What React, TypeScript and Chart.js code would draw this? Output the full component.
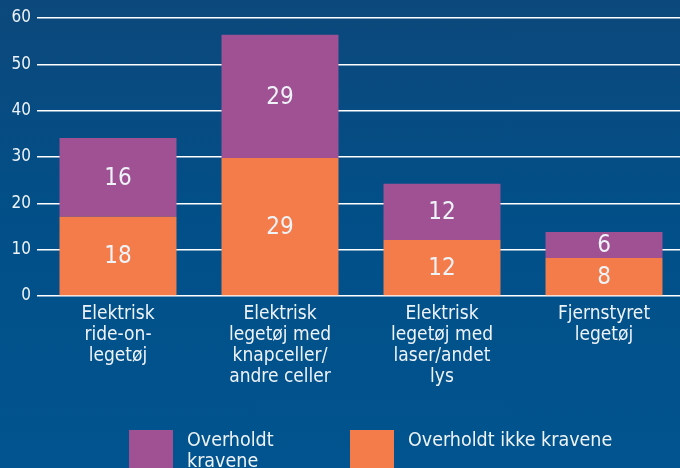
import React, { useEffect, useRef } from "react";
import { Chart, registerables } from "chart.js";

Chart.register(...registerables);

const categories: string[][] = [
  ["Elektrisk", "ride-on-", "legetøj"],
  ["Elektrisk", "legetøj med", "knapceller/", "andre celler"],
  ["Elektrisk", "legetøj med", "laser/andet", "lys"],
  ["Fjernstyret", "legetøj"],
];

// Bar heights as drawn in the picture
const notMetValues = [17.1, 29.8, 12.1, 8.2];
const metValues = [17.0, 26.6, 12.1, 5.6];
// Numbers printed on the bars
const notMetLabels = ["18", "29", "12", "8"];
const metLabels = ["16", "29", "12", "6"];

const seriesNames = ["Overholdt kravene", "Overholdt ikke kravene"];
const yTicks = [0, 10, 20, 30, 40, 50, 60];

const PURPLE = "#a05193";
const ORANGE = "#f47b4a";
const TEXT = "#eef3f8";
const FONT = "'DejaVu Sans Condensed', 'DejaVu Sans', sans-serif";

const valueLabelPlugin = {
  id: "valueLabels",
  afterDatasetsDraw(chart: any) {
    const ctx = chart.ctx;
    ctx.save();
    ctx.fillStyle = TEXT;
    ctx.font = `24px ${FONT}`;
    ctx.textAlign = "center";
    ctx.textBaseline = "middle";
    chart.data.datasets.forEach((ds: any, di: number) => {
      const meta = chart.getDatasetMeta(di);
      meta.data.forEach((el: any, i: number) => {
        const txt = ds.valueLabels[i];
        ctx.fillText(txt, el.x, (el.y + el.base) / 2 + 1);
      });
    });
    ctx.restore();
  },
};

const legendPlugin = {
  id: "customLegend",
  afterDraw(chart: any) {
    const ctx = chart.ctx;
    ctx.save();
    ctx.font = `19.5px ${FONT}`;
    ctx.textBaseline = "alphabetic";
    const items = [
      { color: PURPLE, x: 129, lines: ["Overholdt", "kravene"] },
      { color: ORANGE, x: 350, lines: ["Overholdt ikke kravene"] },
    ];
    items.forEach((it) => {
      ctx.fillStyle = it.color;
      ctx.fillRect(it.x, 430, 44, 44);
      ctx.fillStyle = TEXT;
      it.lines.forEach((l, k) => {
        ctx.fillText(l, it.x + 58, 446 + k * 21);
      });
    });
    ctx.restore();
  },
};

export default function App() {
  const ref = useRef<HTMLCanvasElement>(null);
  useEffect(() => {
    document.body.style.margin = "0";
    const chart = new Chart(ref.current!, {
      type: "bar",
      data: {
        labels: categories as any,
        datasets: [
          {
            label: seriesNames[1],
            data: notMetValues,
            backgroundColor: ORANGE,
            borderWidth: 0,
            barPercentage: 0.722,
            categoryPercentage: 1,
            valueLabels: notMetLabels,
          } as any,
          {
            label: seriesNames[0],
            data: metValues,
            backgroundColor: PURPLE,
            borderWidth: 0,
            barPercentage: 0.722,
            categoryPercentage: 1,
            valueLabels: metLabels,
          } as any,
        ],
      },
      options: {
        animation: false,
        responsive: false,
        maintainAspectRatio: false,
        layout: { padding: { top: 18, right: 0, bottom: 0, left: 0 } },
        plugins: { legend: { display: false }, tooltip: { enabled: false } },
        scales: {
          x: {
            stacked: true,
            grid: { display: false, drawTicks: false },
            border: { display: false },
            ticks: {
              color: TEXT,
              font: { family: FONT, size: 19, lineHeight: 1.1 },
              padding: 8,
              maxRotation: 0,
              autoSkip: false,
            },
            afterFit: (s: any) => {
              s.height = 172;
            },
          },
          y: {
            stacked: true,
            min: 0,
            max: 60,
            afterBuildTicks: (s: any) => {
              s.ticks = yTicks.map((v) => ({ value: v }));
            },
            grid: { color: "#ffffff", lineWidth: 1.5, drawTicks: false },
            border: { display: false },
            ticks: {
              color: TEXT,
              font: { family: FONT, size: 17 },
              padding: 6,
            },
            afterFit: (s: any) => {
              s.width = 37;
            },
          },
        },
      },
      plugins: [valueLabelPlugin, legendPlugin],
    });
    return () => chart.destroy();
  }, []);
  return (
    <div
      style={{
        width: 680,
        height: 468,
        overflow: "hidden",
        position: "relative",
        background: "linear-gradient(180deg, #0c487b 0%, #024f88 45%, #01548f 100%)",
      }}
    >
      <canvas ref={ref} width={685} height={468} style={{ display: "block" }} />
    </div>
  );
}
